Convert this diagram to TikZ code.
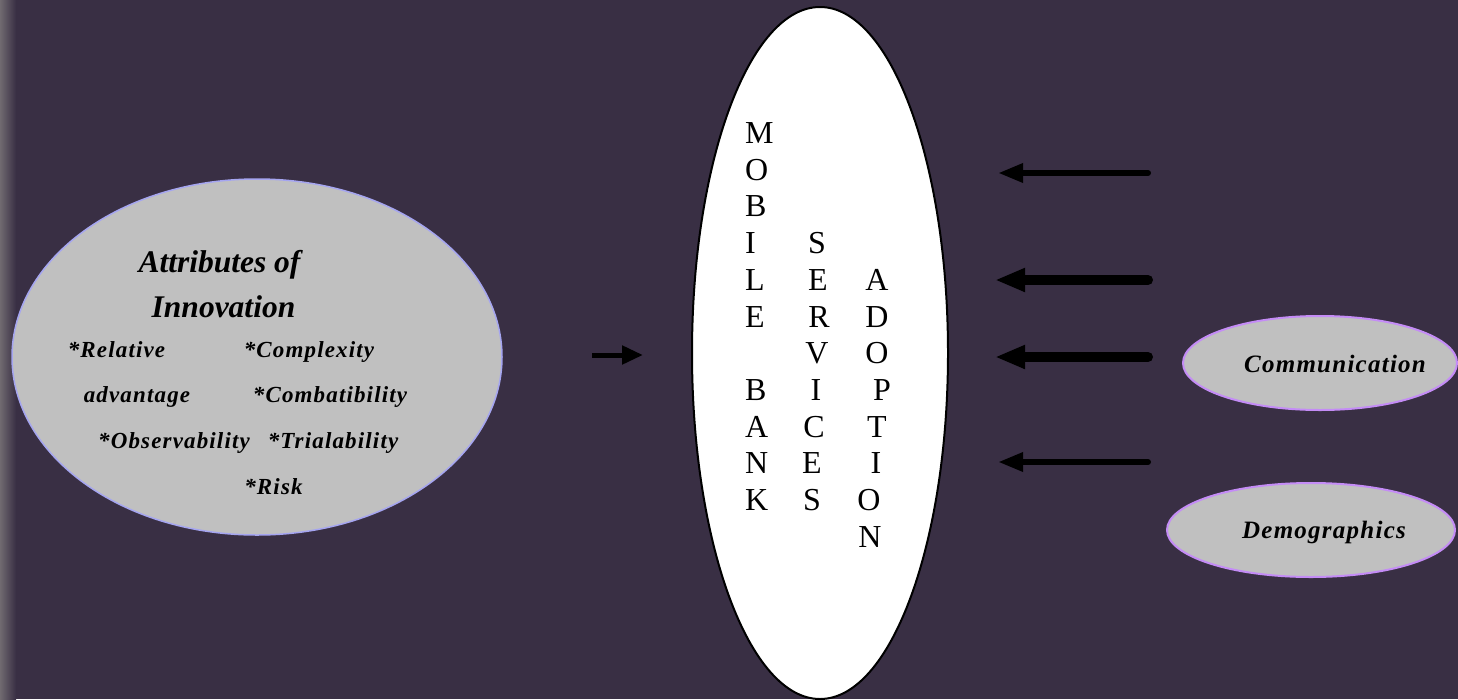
\documentclass[tikz,border=0pt]{standalone}
\usepackage{fontspec}
\setmainfont{Liberation Serif}
\newfontfamily\spacedfont[LetterSpace=5]{Liberation Serif}
\usetikzlibrary{arrows.meta,shapes.geometric}
\definecolor{bg}{RGB}{57,47,68}
\definecolor{glowc}{RGB}{112,106,112}
\definecolor{ellgray}{RGB}{192,192,192}
\definecolor{attredge}{RGB}{165,165,240}
\definecolor{smalledge}{RGB}{196,140,246}
\tikzset{
  grayell/.style={ellipse, fill=ellgray, inner sep=0pt},
  headtxt/.style={anchor=base, inner sep=0pt, font=\fontsize{31.5}{36}\selectfont\bfseries\itshape},
  itemtxt/.style={anchor=base, inner sep=0pt, font=\fontsize{23}{27}\selectfont\spacedfont\bfseries\itshape},
  smalltxt/.style={anchor=base, inner sep=0pt, font=\fontsize{25}{29}\selectfont\spacedfont\bfseries\itshape},
  lettertxt/.style={inner sep=0pt, font=\fontsize{32}{37}\selectfont},
  thinarrow/.style={line width=6pt, line cap=round, -{Triangle[length=25pt,width=18pt]}},
  thickarrow/.style={line width=10pt, line cap=round, -{Triangle[length=30pt,width=22pt]}},
  smallarrow/.style={line width=5pt, -{Triangle[length=21pt,width=18pt]}}
}
\begin{document}
\begin{tikzpicture}[x=1pt,y=-1pt]
\useasboundingbox (0,0) rectangle (1458,699);
\fill[bg] (0,0) rectangle (1458,699);
\shade[left color=glowc, right color=bg] (0,0) rectangle (16,699);

% left ellipse
\node[grayell, draw=attredge, line width=1.5pt, minimum width=490pt, minimum height=356pt] (attr) at (257,357) {};
\node[headtxt] (h1) at (219.5,272) {Attributes of};
\node[headtxt] (h2) at (223.5,317) {Innovation};
\node[itemtxt] (i1) at (116.5,357) {*Relative};
\node[itemtxt] (i2) at (309,357) {*Complexity};
\node[itemtxt] (i3) at (137,402) {advantage};
\node[itemtxt] (i4) at (330,402) {*Combatibility};
\node[itemtxt] (i5) at (174,448) {*Observability};
\node[itemtxt] (i6) at (333,448) {*Trialability};
\node[itemtxt] (i7) at (273.5,494) {*Risk};

% central ellipse
\node[ellipse, fill=white, draw=black, line width=2pt, inner sep=0pt, minimum width=256pt, minimum height=692pt] (mbsa) at (820,353) {};
\foreach \L/\n in {M/0,O/1,B/2,I/3,L/4,E/5,B/7,A/8,N/9,K/10}
  \node[lettertxt, anchor=base west] (ca\n) at (745,143.5+36.7*\n) {\L};
\foreach \L/\xx/\n in {S/817/3,E/818/4,R/819/5,V/817/6,I/816/7,C/814/8,E/812/9,S/812/10}
  \node[lettertxt, anchor=base] (cb\n) at (\xx,143.5+36.7*\n) {\L};
\foreach \L/\xx/\n in {A/877/4,D/877/5,O/877/6,P/882/7,T/877/8,I/876/9,O/869/10,N/870/11}
  \node[lettertxt, anchor=base] (cc\n) at (\xx,143.5+36.7*\n) {\L};

% small ellipses
\node[grayell, draw=smalledge, line width=2pt, minimum width=274pt, minimum height=94pt] (comm) at (1320,363) {};
\node[smalltxt] (commt) at (1335,372) {Communication};
\node[grayell, draw=smalledge, line width=2pt, minimum width=288pt, minimum height=94pt] (demo) at (1311,530) {};
\node[smalltxt] (demot) at (1324,538) {Demographics};

% arrows
\coordinate (la) at (592,355);
\coordinate (lb) at (643,355);
\draw[smallarrow] (la) -- (lb);
\coordinate (t1) at (1148,173); \coordinate (e1) at (998,173);
\coordinate (t2) at (1148,280); \coordinate (e2) at (995,280);
\coordinate (t3) at (1148,357); \coordinate (e3) at (995,357);
\coordinate (t4) at (1148,462); \coordinate (e4) at (998,462);
\draw[thinarrow] (t1) -- (e1);
\draw[thickarrow] (t2) -- (e2);
\draw[thickarrow] (t3) -- (e3);
\draw[thinarrow] (t4) -- (e4);
\end{tikzpicture}
\end{document}
